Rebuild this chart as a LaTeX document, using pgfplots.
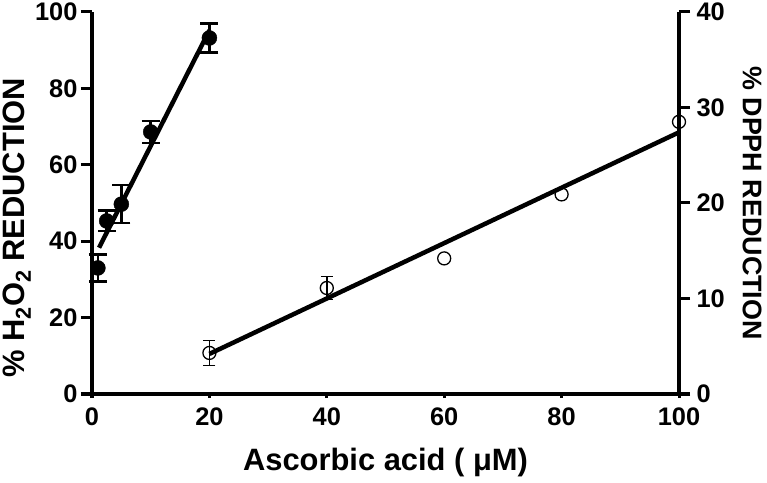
\documentclass[border=0pt]{standalone}
\usepackage{pgfplots}
\pgfplotsset{compat=1.18}
\usepackage{fontspec}
\setmainfont{Liberation Sans}
\begin{document}
\begin{tikzpicture}
\path[use as bounding box] (-92bp,-89bp) rectangle (675bp,394bp);
\pgfplotsset{
  base/.style={
    scale only axis, width=587bp, height=382bp,
    xmin=0, xmax=100, ymin=0, clip=false,
    axis line style={line width=3.2bp},
    major tick style={line width=3bp, black},
    tick align=outside, major tick length=11bp,
    tick label style={font=\fontsize{25.5}{28}\selectfont\bfseries},
    label style={font=\fontsize{29}{32}\selectfont\bfseries},
    /pgf/number format/assume math mode=true,
  },
  ebars/.style={error bars/.cd, y dir=both, y explicit,
    error bar style={line width=2.4bp, black},
    error mark options={rotate=90, mark size=9bp, line width=2.4bp, black}},
}
% x axis only (short ticks)
\begin{axis}[base, ymax=100, major tick length=4bp,
  axis x line*=bottom, axis y line=none,
  xtick={0,20,...,100},
  xticklabel style={yshift=-6bp},
  xlabel={Ascorbic acid ( μM)},
  xlabel style={at={(axis description cs:0.5,-0.1806)}, anchor=center,
    font=\fontsize{31}{34}\selectfont\bfseries},
]
\end{axis}
% H2O2 (left axis)
\begin{axis}[base, ymax=100,
  axis x line=none, axis y line*=left,
  ytick={0,20,...,100},
  ylabel={\% H\textsubscript{2}O\textsubscript{2} REDUCTION},
  ylabel style={at={(axis description cs:-0.128,0.435)}, anchor=center,
    font=\fontsize{31}{34}\selectfont\bfseries},
]
\addplot[only marks, mark=*, mark size=7.5bp, black, ebars] coordinates {
  (1,33) +- (0,3.5)
  (2.5,45.3) +- (0,2.7)
  (5,49.7) +- (0,5)
  (10,68.6) +- (0,2.9)
  (20,93.2) +- (0,3.8)
};
\addplot[black, line width=4.5bp] coordinates {(1.2,38.3) (20,95.2)};
\end{axis}
% DPPH (right axis)
\begin{axis}[base, ymax=40,
  axis x line=none, axis y line*=right,
  ytick={0,10,...,40},
  yticklabel style={xshift=3bp},
  ylabel={\% DPPH REDUCTION},
  ylabel style={at={(axis description cs:1.1244,0.5)}, anchor=center, rotate=180,
    font=\fontsize{27}{30}\selectfont\bfseries},
]
\addplot[black, line width=4.5bp] coordinates {(20,4.2) (100,27.4)};
\addplot[only marks, mark=o, mark size=6.5bp, black, mark options={line width=1.3bp}, ebars,
  error bar style={line width=1.5bp}, error mark options={rotate=90, mark size=6bp, line width=1.5bp}] coordinates {
  (20,4.3) +- (0,1.3)
  (40,11.1) +- (0,1.2)
};
\addplot[only marks, mark=o, mark size=6.5bp, black, mark options={line width=1.3bp}] coordinates {
  (60,14.2) (80,20.9) (100,28.5)
};
\end{axis}
\end{tikzpicture}
\end{document}
